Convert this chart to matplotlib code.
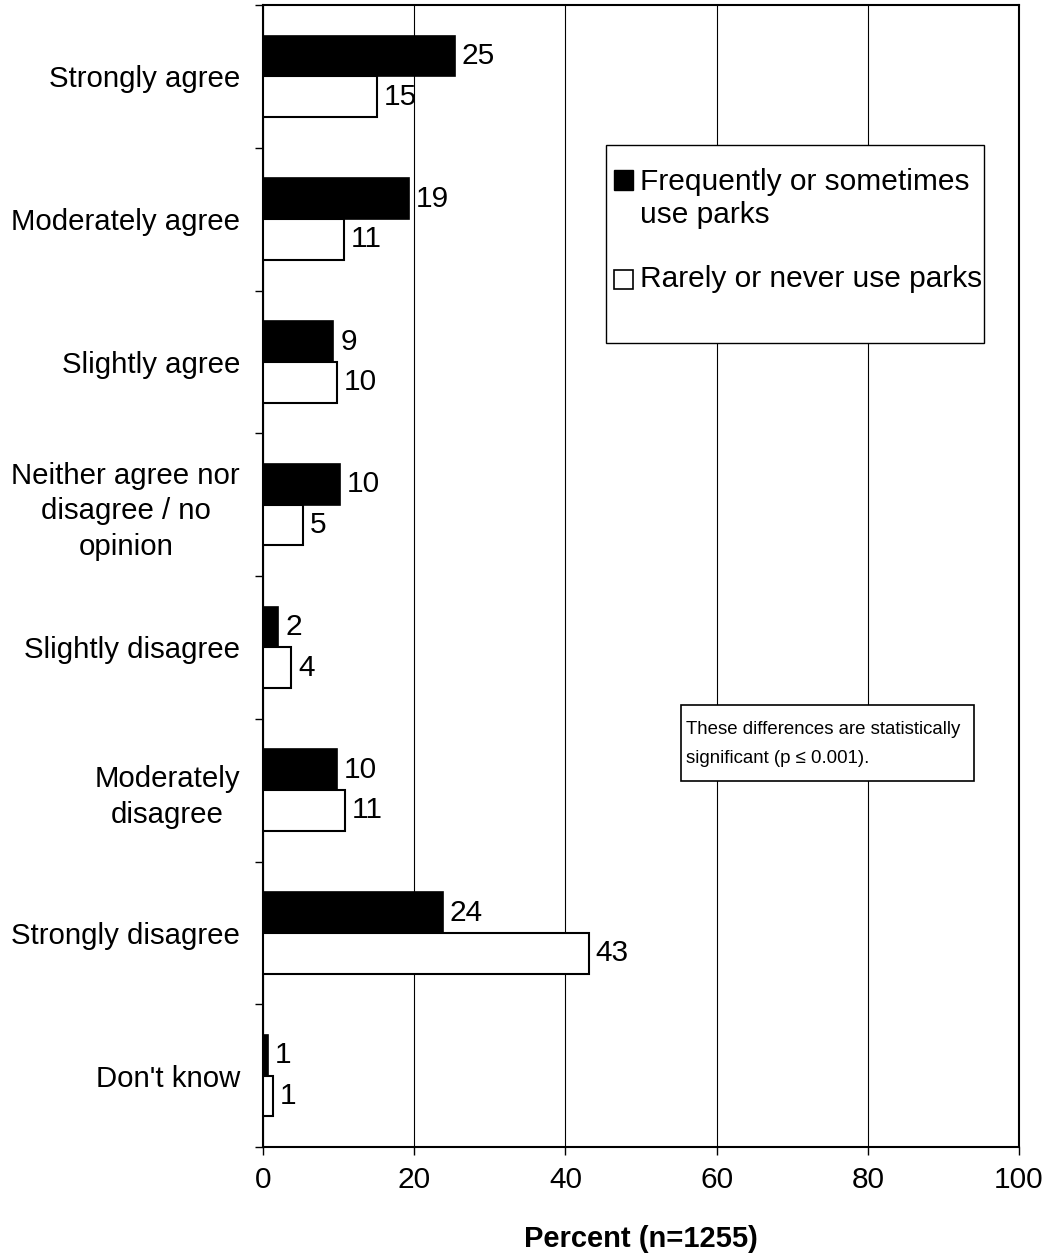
import matplotlib.pyplot as plt
from matplotlib.patches import Rectangle
import numpy as np

plt.rcParams['font.family'] = ['Liberation Sans', 'DejaVu Sans']

categories = ['Strongly agree', 'Moderately agree', 'Slightly agree',
              'Neither agree nor\ndisagree / no\nopinion', 'Slightly disagree',
              'Moderately\ndisagree', 'Strongly disagree', "Don't know"]
frequent = [25.4, 19.3, 9.3, 10.2, 2.0, 9.8, 23.8, 0.7]
rarely = [15.1, 10.7, 9.8, 5.3, 3.7, 10.8, 43.1, 1.3]
frequent_labels = ['25', '19', '9', '10', '2', '10', '24', '1']
rarely_labels = ['15', '11', '10', '5', '4', '11', '43', '1']
legend_lines = [['Frequently or sometimes', 'use parks'], ['Rarely or never use parks']]
note = 'These differences are statistically\nsignificant (p ≤ 0.001).'

W, H = 1047, 1259
fig = plt.figure(figsize=(W / 100, H / 100), dpi=100)
ax = fig.add_axes([263 / W, 1 - 1147 / H, (1019 - 263) / W, (1147 - 5) / H])

y = np.arange(len(categories))
h = 0.285
ax.barh(y - h / 2, frequent, height=h, color='black', edgecolor='black', linewidth=1.2, zorder=3)
ax.barh(y + h / 2, rarely, height=h, color='white', edgecolor='black', linewidth=1.5, zorder=3)

for i in range(len(categories)):
    ax.annotate(frequent_labels[i], (frequent[i], y[i] - h / 2), xytext=(5, 0),
                textcoords='offset points', va='center', ha='left', fontsize=21.5)
    ax.annotate(rarely_labels[i], (rarely[i], y[i] + h / 2), xytext=(5, 0),
                textcoords='offset points', va='center', ha='left', fontsize=21.5)

ax.set_xlim(0, 100)
ax.set_ylim(len(categories) - 0.5, -0.5)
ax.set_xticks([0, 20, 40, 60, 80, 100])
ax.tick_params(axis='x', labelsize=21.5, length=6, width=1, pad=8, direction='out')
ax.set_yticks(y)
ax.set_yticklabels(categories, fontsize=21.2, ha='right', multialignment='center',
                   linespacing=1.35)
ax.tick_params(axis='y', which='major', length=0, pad=16.5)
ax.set_yticks(np.arange(-0.5, len(categories)), minor=True)
ax.tick_params(axis='y', which='minor', length=6, width=1, direction='out')

ax.grid(axis='x', color='black', linewidth=0.8, zorder=0)
for s in ax.spines.values():
    s.set_linewidth(1.5)

ax.set_xlabel('Percent (n=1255)', fontsize=21, fontweight='bold', labelpad=22)

def fx(px):
    return px / W

def fy(py):
    return 1 - py / H

# legend box
fig.patches.append(Rectangle((fx(606), fy(343)), fx(984) - fx(606), fy(145) - fy(343),
                             transform=fig.transFigure, facecolor='white', edgecolor='black',
                             linewidth=1, zorder=5))
fig.patches.append(Rectangle((fx(614), fy(190)), fx(19), fy(170) - fy(190),
                             transform=fig.transFigure, facecolor='black', edgecolor='black',
                             linewidth=1, zorder=6))
fig.patches.append(Rectangle((fx(614), fy(289)), fx(19), fy(270) - fy(289),
                             transform=fig.transFigure, facecolor='white', edgecolor='black',
                             linewidth=1.2, zorder=6))
for txt, py in zip(legend_lines[0] + legend_lines[1], [182, 215, 279]):
    fig.text(fx(640), fy(py), txt, fontsize=21.5, va='center', ha='left', zorder=7)

# note box
fig.patches.append(Rectangle((fx(681), fy(781)), fx(974) - fx(681), fy(705) - fy(781),
                             transform=fig.transFigure, facecolor='white', edgecolor='black',
                             linewidth=1.2, zorder=5))
fig.text(fx(686), fy(744), note, fontsize=13.4, va='center', ha='left', linespacing=1.85, zorder=7)

fig.savefig('out.png', dpi=100)
